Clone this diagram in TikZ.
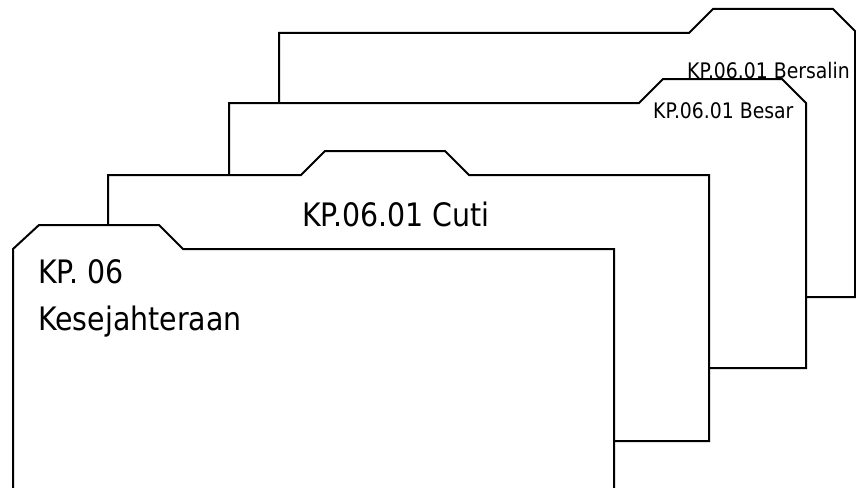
\documentclass[tikz,border=0pt]{standalone}
\usepackage{fontspec}
\newfontfamily\tah[FakeStretch=0.88]{DejaVu Sans}
\begin{document}
\begin{tikzpicture}[x=1pt,y=-1pt,
  folder/.style={draw=black, fill=white, line width=2pt, line join=miter},
  biglbl/.style={anchor=base west, inner sep=0pt, text=black, font=\tah\fontsize{32.3}{36}\selectfont},
  smalllbl/.style={anchor=base west, inner sep=0pt, text=black, font=\tah\fontsize{21.4}{24}\selectfont}]
\clip (0,0) rectangle (856,487);
% folder 4 (back)
\draw[folder] (279,297) -- (279,33) -- (689,33) -- (713,9) -- (833,9) -- (855,31) -- (855,297) -- cycle;
% folder 3
\draw[folder] (229,368) -- (229,103) -- (639,103) -- (663,79) -- (782,79) -- (806,103) -- (806,368) -- cycle;
% folder 2
\draw[folder] (108,441) -- (108,175) -- (301,175) -- (325,151) -- (445,151) -- (469,175) -- (709,175) -- (709,441) -- cycle;
% folder 1 (front)
\draw[folder] (13,500) -- (13,249) -- (39,225) -- (159,225) -- (183,249) -- (614,249) -- (614,500) -- cycle;
% labels
\node[smalllbl] (bersalin) at (687,78) {KP.06.01 Bersalin};
\node[smalllbl] (besar) at (653,118) {KP.06.01 Besar};
\node[biglbl] (cuti) at (302,226) {KP.06.01 Cuti};
\node[biglbl] (kp) at (38,283) {KP. 06};
\node[biglbl] (kes) at (38,330) {Kesejahteraan};
\end{tikzpicture}
\end{document}
